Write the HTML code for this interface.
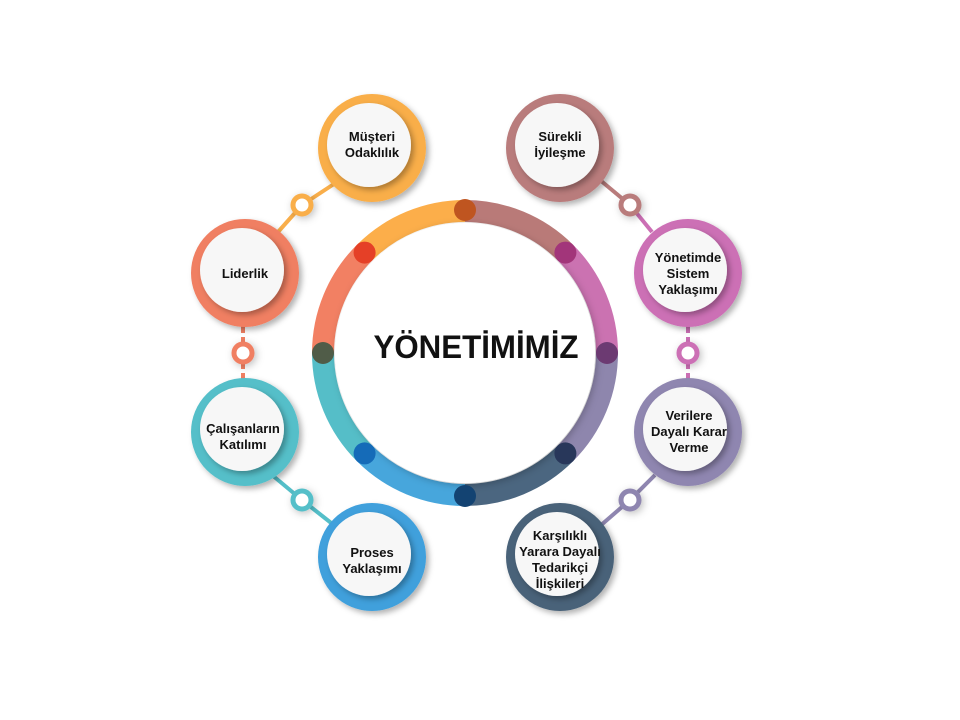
<!DOCTYPE html>
<html><head><meta charset="utf-8"><style>
html,body{margin:0;padding:0;background:#fff;}
svg{display:block;}
text{font-family:"Liberation Sans",Arial,sans-serif;font-weight:bold;fill:#111;}
</style></head><body>
<svg width="960" height="720" viewBox="0 0 960 720" xmlns="http://www.w3.org/2000/svg">
<defs>
<filter id="sh" x="-30%" y="-30%" width="160%" height="160%"><feDropShadow dx="3" dy="3" stdDeviation="3" flood-color="#000" flood-opacity="0.3"/></filter>
<filter id="sh2" x="-30%" y="-30%" width="160%" height="160%"><feDropShadow dx="2" dy="2" stdDeviation="4" flood-color="#000" flood-opacity="0.25"/></filter>
</defs>
<g stroke-width="4" fill="none">
<line x1="340" y1="180" x2="302" y2="205" stroke="#f9ae4a"/>
<line x1="302" y1="205" x2="278" y2="232" stroke="#f9ae4a"/>
<line x1="600" y1="180" x2="630" y2="205" stroke="#b97c7c"/>
<line x1="630" y1="205" x2="652" y2="232" stroke="#cc6fb5"/>
<line x1="243" y1="325" x2="243" y2="380" stroke="#f07f62" stroke-dasharray="8 4"/>
<line x1="688" y1="325" x2="688" y2="380" stroke="#cc6fb5" stroke-dasharray="8 4"/>
<line x1="272" y1="475" x2="302" y2="500" stroke="#54bfc9"/>
<line x1="302" y1="500" x2="335" y2="526" stroke="#54bfc9"/>
<line x1="655" y1="475" x2="630" y2="500" stroke="#8f86b0"/>
<line x1="630" y1="500" x2="600" y2="526" stroke="#8f86b0"/>
</g>
<g stroke-width="5" fill="#fff" filter="url(#sh2)">
<circle cx="302" cy="205" r="9" stroke="#f9ae4a"/>
<circle cx="630" cy="205" r="9" stroke="#b97c7c"/>
<circle cx="243" cy="353" r="9" stroke="#f07f62"/>
<circle cx="688" cy="353" r="9" stroke="#cc6fb5"/>
<circle cx="302" cy="500" r="9" stroke="#54bfc9"/>
<circle cx="630" cy="500" r="9" stroke="#8f86b0"/>
</g>
<g fill="none" stroke-width="22">
<path d="M364.6 252.6 A142 142 0 0 1 465 211" stroke="#fcae4a"/>
<path d="M465 211 A142 142 0 0 1 565.4 252.6" stroke="#b97a78"/>
<path d="M565.4 252.6 A142 142 0 0 1 607 353" stroke="#cb72b1"/>
<path d="M607 353 A142 142 0 0 1 565.4 453.4" stroke="#8e86ad"/>
<path d="M565.4 453.4 A142 142 0 0 1 465 495" stroke="#4b6680"/>
<path d="M465 495 A142 142 0 0 1 364.6 453.4" stroke="#47a6dc"/>
<path d="M364.6 453.4 A142 142 0 0 1 323 353" stroke="#55bec8"/>
<path d="M323 353 A142 142 0 0 1 364.6 252.6" stroke="#f28063"/>
</g>
<circle cx="465" cy="353" r="130" fill="#fff" filter="url(#sh2)"/>
<g>
<circle cx="465" cy="210" r="11" fill="#bf5520"/>
<circle cx="565.4" cy="252.6" r="11" fill="#a2357a"/>
<circle cx="607" cy="353" r="11" fill="#6c3a72"/>
<circle cx="565.4" cy="453.4" r="11" fill="#28375a"/>
<circle cx="465" cy="496" r="11" fill="#134372"/>
<circle cx="364.6" cy="453.4" r="11" fill="#156bb8"/>
<circle cx="323" cy="353" r="11" fill="#505c48"/>
<circle cx="364.6" cy="252.6" r="11" fill="#e54027"/>
</g>
<text x="476" y="358" font-size="32" text-anchor="middle" fill="#000" textLength="205" lengthAdjust="spacingAndGlyphs">YÖNETİMİMİZ</text>
<g filter="url(#sh)">
<circle cx="372" cy="148" r="54" fill="#f9ae4a"/>
<circle cx="560" cy="148" r="54" fill="#b97c7c"/>
<circle cx="245" cy="273" r="54" fill="#f07f62"/>
<circle cx="688" cy="273" r="54" fill="#cc6fb5"/>
<circle cx="245" cy="432" r="54" fill="#54bfc9"/>
<circle cx="688" cy="432" r="54" fill="#8f86b0"/>
<circle cx="372" cy="557" r="54" fill="#3fa0dc"/>
<circle cx="560" cy="557" r="54" fill="#4a6279"/>
</g>
<g fill="#f7f7f7" filter="url(#sh)">
<circle cx="369" cy="145" r="42"/>
<circle cx="557" cy="145" r="42"/>
<circle cx="242" cy="270" r="42"/>
<circle cx="685" cy="270" r="42"/>
<circle cx="242" cy="429" r="42"/>
<circle cx="685" cy="429" r="42"/>
<circle cx="369" cy="554" r="42"/>
<circle cx="557" cy="554" r="42"/>
</g>
<g font-size="13" text-anchor="middle">
<text x="372" y="141">Müşteri</text><text x="372" y="157">Odaklılık</text>
<text x="560" y="141">Sürekli</text><text x="560" y="157">İyileşme</text>
<text x="245" y="278">Liderlik</text>
<text x="688" y="262">Yönetimde</text><text x="688" y="278">Sistem</text><text x="688" y="294">Yaklaşımı</text>
<text x="243" y="433">Çalışanların</text><text x="243" y="449">Katılımı</text>
<text x="689" y="420">Verilere</text><text x="689" y="436">Dayalı Karar</text><text x="689" y="452">Verme</text>
<text x="372" y="557">Proses</text><text x="372" y="573">Yaklaşımı</text>
<text x="560" y="540">Karşılıklı</text><text x="560" y="556">Yarara Dayalı</text><text x="560" y="572">Tedarikçi</text><text x="560" y="588">İlişkileri</text>
</g>
</svg>
</body></html>
